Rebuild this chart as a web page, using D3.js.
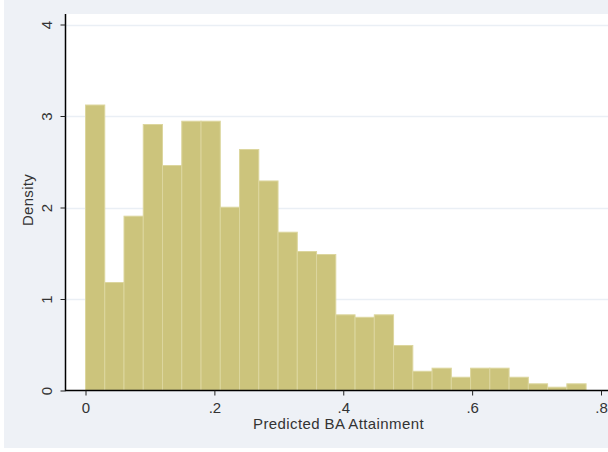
<!DOCTYPE html>
<html><head><meta charset="utf-8">
<script src="https://cdn.jsdelivr.net/npm/d3@7"></script>
<style>html,body{margin:0;padding:0;background:#fff;}svg{display:block;}</style>
</head><body>
<svg id="c" width="608" height="452"></svg>
<script>
const binStart = 0;
const binWidth = 0.02988;
const densities = [3.12,1.18,1.905,2.907,2.459,2.943,2.943,2.003,2.634,2.29,1.73,1.519,1.486,0.827,0.80,0.827,0.492,0.21,0.244,0.145,0.244,0.244,0.145,0.073,0.036,0.073];
const xTicks = [0,0.2,0.4,0.6,0.8];
const xTickLabels = ["0",".2",".4",".6",".8"];
const yTicks = [0,1,2,3,4];
const xTitle = "Predicted BA Attainment";
const yTitle = "Density";

const FONT = "Liberation Sans, Arial, sans-serif";
const svg = d3.select("#c");
svg.append("rect").attr("x",4).attr("y",0).attr("width",604).attr("height",448).attr("fill","#eef1f6");
svg.append("rect").attr("x",65).attr("y",14).attr("width",543).attr("height",376).attr("fill","#ffffff");

const x = d3.scaleLinear().domain([0,0.8]).range([85.5,601]);
const y = d3.scaleLinear().domain([0,4]).range([390.5,24.5]);

// gridlines
svg.append("g").selectAll("line").data(yTicks.filter(d=>d>0)).join("line")
  .attr("x1",66).attr("x2",608).attr("y1",d=>Math.round(y(d))+0.5).attr("y2",d=>Math.round(y(d))+0.5)
  .attr("stroke","#eaeff5").attr("stroke-width",1.5);

// bars
const bins = densities.map((d,i)=>({x0:binStart+i*binWidth,x1:binStart+(i+1)*binWidth,d}));
svg.append("g").selectAll("rect").data(bins).join("rect")
  .attr("x",d=>x(d.x0)).attr("width",d=>x(d.x1)-x(d.x0))
  .attr("y",d=>y(d.d)).attr("height",d=>y(0)-y(d.d))
  .attr("fill","#ccc47c").attr("stroke","#dcd69e").attr("stroke-width",1);

// axes
const xAxis = d3.axisBottom(x).tickValues(xTicks).tickFormat((d,i)=>xTickLabels[i]).tickSize(5).tickPadding(7);
const gx = svg.append("g").attr("transform","translate(0,390.5)").call(xAxis);
gx.select(".domain").attr("d","M65,0H608").attr("stroke","#000").attr("stroke-width",1.5);
gx.selectAll(".tick line").attr("stroke","#222");
gx.selectAll(".tick text").attr("font-family",FONT).attr("font-size",15).attr("fill","#333");

const yAxis = d3.axisLeft(y).tickValues(yTicks).tickSize(5).tickFormat(d3.format("d"));
const gy = svg.append("g").attr("transform","translate(65.5,0)").call(yAxis);
gy.select(".domain").attr("d","M0,14V391").attr("stroke","#000").attr("stroke-width",1.5);
gy.selectAll(".tick line").attr("stroke","#222");
gy.selectAll(".tick text").attr("font-family",FONT).attr("font-size",15).attr("fill","#333")
  .attr("x",0).attr("dy",0).attr("text-anchor","middle")
  .attr("transform","translate(-13.5,0) rotate(-90)");

svg.append("text").attr("x",338.5).attr("y",428.5).attr("text-anchor","middle").attr("letter-spacing","0.4px")
  .attr("font-family",FONT).attr("font-size",15).attr("fill","#333").text(xTitle);
svg.append("text").attr("transform","translate(33,200) rotate(-90)").attr("text-anchor","middle").attr("letter-spacing","0.3px")
  .attr("font-family",FONT).attr("font-size",15).attr("fill","#333").text(yTitle);
</script>
</body></html>
